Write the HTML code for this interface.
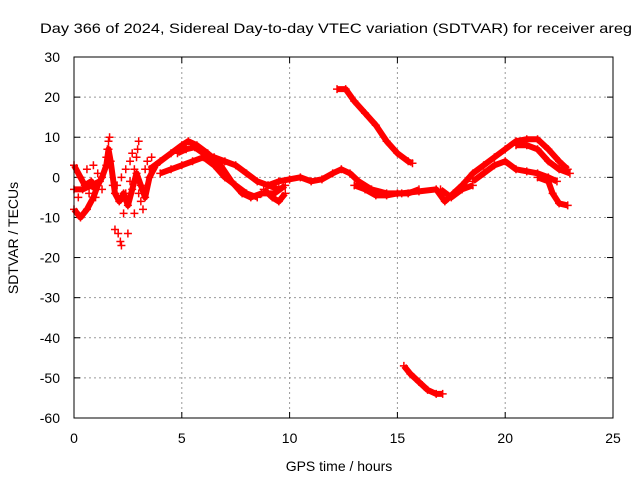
<!DOCTYPE html>
<html><head><meta charset="utf-8"><style>
body{margin:0;background:#fff}
svg{display:block;font-family:"Liberation Sans",sans-serif}
</style></head><body>
<svg id="chart" width="640" height="480">
<text x="40" y="33" font-size="14" fill="#000" textLength="592" lengthAdjust="spacingAndGlyphs">Day 366 of 2024, Sidereal Day-to-day VTEC variation (SDTVAR) for receiver areg</text>
<text x="339" y="471" font-size="14" text-anchor="middle">GPS time / hours</text>
<text transform="translate(18,238) rotate(-90)" font-size="14" text-anchor="middle">SDTVAR / TECUs</text>
<g id="grid"></g><g id="ticks"></g><g id="marks"></g>
<rect x="74" y="57" width="539" height="361" fill="none" stroke="#000" stroke-width="1"/>
</svg>
<script>
const xTicks=[0,5,10,15,20,25];
const yTicks=[30,20,10,0,-10,-20,-30,-40,-50,-60];
const trackA=[[3.5,2],[4,4],[4.5,6],[5,8],[5.3,9],[5.7,8],[6.2,6],[6.8,3],[7.3,-1],[7.8,-4],[8.2,-5],[8.7,-4],[9.3,-4],[9.8,-2]];
const trackB=[[4.8,6],[5.2,7],[5.6,7.5],[6,6],[6.5,5],[7,4],[7.5,3],[8,1],[8.5,-1],[9,-2],[9.5,-3]];
const trackC=[[4,1],[4.5,2],[5,3],[5.5,4],[6,5],[6.5,3],[7,0],[7.5,-2],[8,-4],[8.5,-5]];
const trackD=[[9,-2],[9.5,-1],[10,-0.5],[10.5,0],[11,-1],[11.5,-0.5],[12,1],[12.4,2],[12.8,1],[13.2,-1],[13.8,-3],[14.5,-4],[15.2,-4],[16,-3.5],[16.8,-3],[17.2,-6],[17.6,-4],[18,-2],[18.5,1],[19,3],[19.5,5],[20,7],[20.5,9],[21,9.5],[21.5,9.5],[22,7],[22.5,4],[22.9,2]];
const trackE=[[13,-2],[13.5,-3],[14,-4.5],[14.5,-4.5],[15,-4],[15.5,-4],[16,-3]];
const trackF=[[18.5,-1],[19,1],[19.5,3],[20,4],[20.5,2],[21,1.5],[21.5,1],[22,0],[22.4,-1]];
const trackF2=[[21.5,0],[22,-1],[22.2,-4],[22.5,-6.5],[22.9,-7]];
const trackG=[[20.5,8],[21,8],[21.5,7],[22,4],[22.5,2],[23,1]];
const trackH=[[12.2,22],[12.6,22],[13,19],[13.5,16],[14,13],[14.5,9],[15,6],[15.5,4],[15.7,3.5]];
const trackI=[[15.3,-47],[15.6,-49],[16,-51],[16.4,-53],[16.8,-54],[17.1,-54]];
const trackJ=[[0,3],[0.3,0],[0.5,-2],[0.8,-1],[1,-3],[1.3,0],[1.5,3],[1.6,7],[1.7,4],[1.9,-4],[2.1,-6],[2.3,-4],[2.5,-7],[2.7,-3],[2.9,1],[3.1,-2],[3.3,-5],[3.5,0],[3.8,3]];
const trackK=[[0,-8],[0.3,-10],[0.6,-8],[0.9,-5],[1.1,-2]];
const trackL=[[0,-3],[0.4,-3],[0.8,-2],[1.2,-1]];
const trackM=[[8.8,-3],[9.2,-5],[9.5,-6],[9.8,-4]];
const trackN=[[17,-3],[17.5,-5],[18,-3],[18.5,-2]];
const spikes=[[1.5,5],[1.55,7],[1.6,9],[1.65,10],[2.9,5],[2.95,7],[3,9],[3.1,-6],[3.2,-8],[2.4,2],[2.6,4],[2.7,6],[1.9,-13],[2.05,-14],[2.15,-16],[2.2,-17],[2.5,-14],[2.4,-4],[2.8,-9],[0.6,2],[0.9,3],[1.1,1],[0.7,-4],[1.3,-3],[2,-2],[2.2,0],[2.6,-1],[3,-4],[3.3,2],[3.4,4],[3.6,5],[3.2,-3],[2.8,2],[0.2,-5],[1.0,-5],[2.3,-9],[1.8,-2]];
const tracks=[trackA,trackB,trackC,trackD,trackE,trackF,trackF2,trackG,trackH,trackI,trackJ,trackK,trackL,trackM,trackN];
const X=v=>74+(v-0)/25*539, Y=v=>57+(30-v)/90*361;
const NS="http://www.w3.org/2000/svg";
const g=document.getElementById('grid'),tk=document.getElementById('ticks'),mk=document.getElementById('marks');
function mkEl(t,a){const e=document.createElementNS(NS,t);for(const k in a)e.setAttribute(k,a[k]);return e;}
xTicks.forEach(v=>{
  if(v>0&&v<25){const l=mkEl('line',{x1:X(v),x2:X(v),y1:57,y2:418,stroke:'#999','stroke-dasharray':'2,3'});
  
  g.appendChild(l);}
  const t=mkEl('text',{x:X(v),y:443,'font-size':14,'text-anchor':'middle'});t.textContent=v;
  
  tk.appendChild(t);
  [[418,412],[57,63]].forEach(p=>{const m=mkEl('line',{x1:X(v),x2:X(v),y1:p[0],y2:p[1],stroke:'#000'});tk.appendChild(m);});
});
yTicks.forEach(v=>{
  if(v<30&&v>-60){const l=mkEl('line',{x1:74,x2:613,y1:Y(v),y2:Y(v),stroke:'#999','stroke-dasharray':'2,3'});
  
  g.appendChild(l);}
  const t=mkEl('text',{x:60,y:Y(v)+5,'font-size':14,'text-anchor':'end'});t.textContent=v;
  
  tk.appendChild(t);
  [[74,80],[613,607]].forEach(p=>{const m=mkEl('line',{x1:p[0],x2:p[1],y1:Y(v),y2:Y(v),stroke:'#000'});tk.appendChild(m);});
});
function plus(x,y){const p=mkEl('path',{d:`M${x-4} ${y}h8M${x} ${y-4}v8`,stroke:'#f00','stroke-width':1.5});
  
  mk.appendChild(p);}
tracks.forEach(tr=>{
  const pl=mkEl('polyline',{points:tr.map(p=>X(p[0])+','+Y(p[1])).join(' '),fill:'none',stroke:'#f00','stroke-width':6,'stroke-linejoin':'round'});
  
  mk.appendChild(pl);
  tr.forEach(p=>plus(X(p[0]),Y(p[1])));
});
spikes.forEach(p=>plus(X(p[0]),Y(p[1])));
</script>
</body></html>
